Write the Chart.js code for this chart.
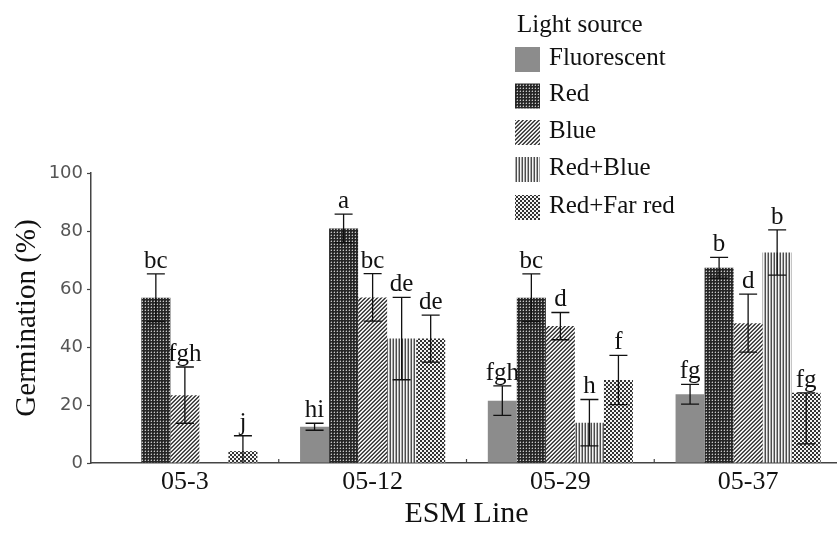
<!DOCTYPE html>
<html>
<head>
<meta charset="utf-8">
<script src="https://cdn.jsdelivr.net/npm/chart.js@4.4.1/dist/chart.umd.min.js"></script>
<style>
  html, body { margin: 0; padding: 0; background: #fff; overflow: hidden; }
  #wrap { position: relative; width: 837px; height: 535px; overflow: hidden; }
  canvas { position: absolute; left: 0; top: 0; }
</style>
</head>
<body>
<div id="wrap"><canvas id="myChart" width="842" height="535"></canvas></div>
<script>
var categories = ['05-3', '05-12', '05-29', '05-37'];
var seriesNames = ['Fluorescent', 'Red', 'Blue', 'Red+Blue', 'Red+Far red'];
var yTicks = [0, 20, 40, 60, 80, 100];

// mean germination (%)
var fluorescent = [null, 12.5, 21.5, 23.7];
var red = [57, 80.9, 57, 67.3];
var blue = [23.4, 57.1, 47.2, 48.2];
var redBlue = [null, 42.9, 13.9, 72.6];
var redFarRed = [4.1, 42.9, 28.6, 24.2];

// error bars (upper / lower)
var fluorescentErr = [null, 1.2, 5.1, 3.4];
var redErr = [8.2, 4.9, 8.2, 3.6];
var blueErr = [9.7, 8.2, 4.7, 10.0];
var redBlueErr = [null, 14.2, 8.0, 7.8];
var redFarRedErrUp = [5.3, 8.1, 8.5, 0];
var redFarRedErrDown = [5.3, 8.1, 8.5, 17.6];

// significance letters
var fluorescentLetters = ['', 'hi', 'fgh', 'fg'];
var redLetters = ['bc', 'a', 'bc', 'b'];
var blueLetters = ['fgh', 'bc', 'd', 'd'];
var redBlueLetters = ['', 'de', 'h', 'b'];
var redFarRedLetters = ['j', 'de', 'f', 'fg'];

document.addEventListener('DOMContentLoaded', function() {
    var ctx = document.getElementById('myChart').getContext('2d');

    function makePattern(w, h, paint) {
        var c = document.createElement('canvas');
        c.width = w; c.height = h;
        var g = c.getContext('2d');
        paint(g);
        return ctx.createPattern(c, 'repeat');
    }
    function px(g, x, y, col) { g.fillStyle = col; g.fillRect(x, y, 1, 1); }

    var solidGray = '#8c8c8c';
    var redPattern = makePattern(3, 3, function(g) {
        g.fillStyle = '#262626'; g.fillRect(0, 0, 3, 3);
        px(g, 1, 1, '#c8c8c8');
        px(g, 1, 0, '#666666');
        px(g, 0, 1, '#555555');
    });
    var bluePattern = makePattern(4, 4, function(g) {
        var cols = ['#ffffff', '#d0d0d0', '#333333', '#666666'];
        for (var x = 0; x < 4; x++) for (var y = 0; y < 4; y++) {
            px(g, x, y, cols[(x + y) % 4]);
        }
    });
    var redBluePattern = makePattern(3, 1, function(g) {
        px(g, 0, 0, '#4d4d4d'); px(g, 1, 0, '#f4f4f4'); px(g, 2, 0, '#a8a8a8');
    });
    var redFarRedPattern = makePattern(4, 4, function(g) {
        g.fillStyle = '#f4f4f4'; g.fillRect(0, 0, 4, 4);
        g.fillStyle = '#333333'; g.fillRect(0, 0, 2, 2); g.fillRect(2, 2, 2, 2);
    });

    function ds(label, data, bg, up, down, letters) {
        return { label: label, data: data, backgroundColor: bg, borderWidth: 0,
                 errUp: up, errDown: down, letters: letters };
    }

    var errorBars = {
        id: 'errorBars',
        afterDatasetsDraw: function(chart) {
            var c = chart.ctx, y = chart.scales.y;
            chart.data.datasets.forEach(function(d, i) {
                chart.getDatasetMeta(i).data.forEach(function(bar, j) {
                    var v = d.data[j];
                    if (v === null) return;
                    var top = y.getPixelForValue(v + d.errUp[j]);
                    var lowVal = v - d.errDown[j];
                    var bottom = y.getPixelForValue(Math.max(0, lowVal));
                    c.save();
                    c.strokeStyle = '#111';
                    c.lineWidth = 1.3;
                    c.beginPath();
                    c.moveTo(bar.x, top); c.lineTo(bar.x, bottom);
                    c.moveTo(bar.x - 9, top); c.lineTo(bar.x + 9, top);
                    if (lowVal > 0) { c.moveTo(bar.x - 9, bottom); c.lineTo(bar.x + 9, bottom); }
                    c.stroke();
                    c.fillStyle = '#111';
                    c.font = '25px "Liberation Serif"';
                    c.textAlign = 'center';
                    c.textBaseline = 'alphabetic';
                    c.fillText(d.letters[j], bar.x, top - 6);
                    c.restore();
                });
            });
        }
    };

    var extras = {
        id: 'extras',
        afterDraw: function(chart) {
            var c = chart.ctx, x = chart.scales.x, a = chart.chartArea;
            c.save();
            // small group separator ticks on the x axis
            c.strokeStyle = '#444';
            c.lineWidth = 1.2;
            for (var i = 1; i < categories.length; i++) {
                var xp = (x.getPixelForValue(i - 1) + x.getPixelForValue(i)) / 2;
                c.beginPath(); c.moveTo(xp, a.bottom); c.lineTo(xp, a.bottom - 4); c.stroke();
            }
            // legend
            c.fillStyle = '#111';
            c.font = '25px "Liberation Serif"';
            c.textAlign = 'left';
            c.textBaseline = 'alphabetic';
            c.fillText('Light source', 517, 32);
            var tops = [47, 83.5, 120, 157, 195];
            chart.data.datasets.forEach(function(d, k) {
                c.fillStyle = d.backgroundColor;
                c.fillRect(515, tops[k], 25, 25);
                c.fillStyle = '#111';
                c.textBaseline = 'middle';
                c.fillText(d.label, 549, tops[k] + 11);
            });
            c.restore();
        }
    };

    var myChart = new Chart(ctx, {
        type: 'bar',
        data: {
            labels: categories,
            datasets: [
                ds(seriesNames[0], fluorescent, solidGray, fluorescentErr, fluorescentErr, fluorescentLetters),
                ds(seriesNames[1], red, redPattern, redErr, redErr, redLetters),
                ds(seriesNames[2], blue, bluePattern, blueErr, blueErr, blueLetters),
                ds(seriesNames[3], redBlue, redBluePattern, redBlueErr, redBlueErr, redBlueLetters),
                ds(seriesNames[4], redFarRed, redFarRedPattern, redFarRedErrUp, redFarRedErrDown, redFarRedLetters)
            ]
        },
        options: {
            responsive: false,
            animation: false,
            layout: { padding: { top: 173, right: 0, left: 0, bottom: 0 } },
            datasets: { bar: { categoryPercentage: 0.773, barPercentage: 1.0 } },
            plugins: {
                legend: { display: false },
                tooltip: { enabled: false }
            },
            scales: {
                x: {
                    grid: { display: false, drawTicks: false },
                    border: { display: true, color: '#444', width: 1.5 },
                    ticks: { color: '#111', padding: 4, font: { family: 'Liberation Serif', size: 26 } },
                    title: { display: true, text: 'ESM Line', color: '#111',
                             font: { family: 'Liberation Serif', size: 30 }, padding: { top: 0, bottom: 3 } },
                    afterFit: function(s) { s.height = 72; }
                },
                y: {
                    min: 0, max: 100,
                    afterBuildTicks: function(s) { s.ticks = yTicks.map(function(v) { return { value: v }; }); },
                    grid: { drawOnChartArea: false, drawTicks: true, tickLength: 4, tickColor: '#444', tickWidth: 1.2 },
                    border: { display: true, color: '#444', width: 1.5 },
                    ticks: { color: '#555', padding: 4, font: { family: 'DejaVu Sans', size: 18 } },
                    title: { display: true, text: 'Germination (%)', color: '#111',
                             font: { family: 'Liberation Serif', size: 29 }, padding: { top: 10, bottom: 0 } },
                    afterFit: function(s) { s.width = 91; }
                }
            }
        },
        plugins: [errorBars, extras]
    });
});
</script>
</body>
</html>
